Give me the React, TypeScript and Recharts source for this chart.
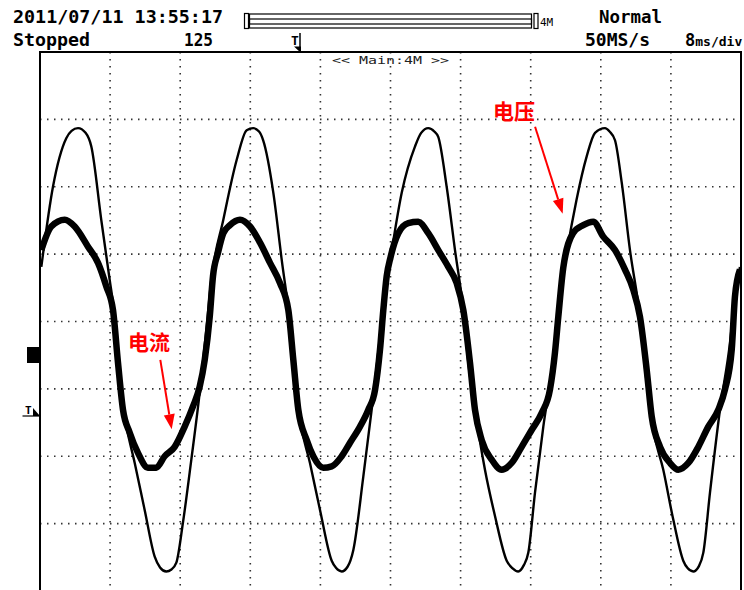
import React from 'react';
import { LineChart, Line, XAxis, YAxis, CartesianGrid, ReferenceLine, ReferenceDot } from 'recharts';

// time in ms (8 ms/div), amplitude in screen divisions
const timeTicks = [0, 8, 16, 24, 32, 40, 48, 56, 64, 72, 80];
const divTicks = [-4, -3, -2, -1, 0, 1, 2, 3, 4];

const voltageMs = [
  0.15, 1.48, 3.0, 3.6, 4.34, 5.2, 5.85, 7.0, 7.95, 8.52, 9.1, 9.85, 10.81, 11.95, 13.09, 13.7, 14.41, 15.0, 15.56,
  16.32, 17.27, 18.22, 18.98, 19.55, 20.92, 22.45, 23.59, 24.33, 25.0, 25.47, 26.63, 27.59, 28.53, 29.1, 29.68,
  30.81, 31.96, 33.29, 33.8, 34.43, 35.1, 35.76, 36.9, 38.04, 38.8, 39.37, 40.14, 41.28, 42.8, 43.5, 44.31, 45.0,
  45.45, 46.41, 47.36, 48.31, 48.88, 49.64, 50.78, 51.93, 53.26, 53.9, 54.58, 55.2, 55.73, 56.49, 57.44, 58.4,
  59.15, 60.08, 61.22, 62.39, 63.34, 64.48, 65.0, 65.62, 66.39, 67.33, 68.47, 69.24, 69.99, 71.13, 72.27, 73.41,
  73.9, 74.55, 75.2, 75.7, 76.46, 77.6, 78.74, 79.31, 79.88,
];
const voltageDiv = [
  0.81, 2.0, 2.72, 2.83, 2.87, 2.8, 2.6, 1.5, 0.62, 0.07, -1.02, -1.56, -2.1, -2.8, -3.49, -3.65, -3.71, -3.68, -3.58,
  -2.98, -2.05, -1.06, -0.12, 0.62, 1.51, 2.4, 2.84, 2.87, 2.82, 2.69, 1.91, 0.91, -0.02, -0.82, -1.46,
  -2.1, -2.8, -3.55, -3.66, -3.71, -3.64, -3.39, -2.3, -1.11, -0.22, 0.47, 1.06, 1.91, 2.6, 2.8, 2.87, 2.82,
  2.74, 2.0, 1.06, 0.17, -0.61, -1.31, -2.2, -2.89, -3.55, -3.66, -3.71, -3.62, -3.43, -2.54, -1.56, -0.72,
  0.17, 0.99, 1.8, 2.45, 2.8, 2.87, 2.82, 2.69, 2.06, 1.06, 0.07, -0.91, -1.61, -2.2, -2.94, -3.55,
  -3.66, -3.71, -3.63, -3.43, -2.54, -1.31, -0.32, 0.37, 0.81,
];

const currentMs = [
  0.15, 1.29, 2.82, 3.96, 5.48, 6.62, 7.57, 8.33, 8.9, 9.47, 10.24, 11.18, 12.32, 13.27, 14.23, 15.37, 16.51, 17.46,
  18.22, 18.8, 19.37, 19.74, 20.31, 20.92, 21.68, 22.82, 23.97, 25.11, 26.25, 27.39, 28.34, 28.91, 29.48, 30.44,
  31.19, 32.33, 33.29, 34.43, 35.38, 36.52, 37.47, 38.23, 38.8, 39.18, 39.56, 40.0, 40.89, 42.03, 43.17, 44.31,
  45.45, 46.6, 47.55, 48.31, 49.07, 49.64, 50.41, 51.55, 52.69, 53.83, 54.97, 56.11, 57.25, 58.2, 58.77, 59.15,
  59.72, 60.83, 62.0, 63.14, 64.28, 65.62, 66.76, 67.71, 68.47, 69.24, 69.81, 70.76, 71.9, 72.85, 73.99, 75.13,
  76.27, 77.41, 78.17, 78.94, 79.31, 79.88,
];
const currentDiv = [
  1.06, 1.41, 1.51, 1.41, 1.11, 0.87, 0.52, 0.17, -0.61, -1.31, -1.65, -1.95, -2.17, -2.17, -2.0, -1.86, -1.56, -1.26,
  -0.97, -0.57, 0.07, 0.67, 1.02, 1.31, 1.43, 1.51, 1.41, 1.17, 0.87, 0.57, 0.17, -0.57, -1.31, -1.76,
  -2.0, -2.17, -2.15, -2.0, -1.8, -1.56, -1.31, -1.02, -0.42, 0.17, 0.67, 0.95, 1.31, 1.46, 1.48, 1.31,
  1.06, 0.81, 0.57, 0.17, -0.61, -1.31, -1.76, -2.05, -2.2, -2.1, -1.86, -1.61, -1.36, -1.01, -0.46, 0.07,
  0.8, 1.31, 1.43, 1.48, 1.26, 1.06, 0.77, 0.47, 0.07, -0.72, -1.41, -1.86, -2.1, -2.2, -2.1, -1.86,
  -1.56, -1.31, -1.01, -0.42, 0.37, 0.77,
];

const voltageData = voltageMs.map((t, i) => ({ t, v: voltageDiv[i] }));
const currentData = currentMs.map((t, i) => ({ t, c: currentDiv[i] }));

const labelVoltage = '电压';
const labelCurrent = '电流';

const arrowShape = (p: any) => {
  const { x1, y1, x2, y2 } = p;
  const dx = x2 - x1;
  const dy = y2 - y1;
  const len = Math.sqrt(dx * dx + dy * dy) || 1;
  const ux = dx / len;
  const uy = dy / len;
  const headL = 15;
  const headW = 5.5;
  const bx = x2 - ux * headL;
  const by = y2 - uy * headL;
  const pts = `${x2},${y2} ${bx - uy * headW},${by + ux * headW} ${bx + uy * headW},${by - ux * headW}`;
  return (
    <g>
      <line x1={x1} y1={y1} x2={bx} y2={by} stroke="#ff0000" strokeWidth={2} />
      <polygon points={pts} fill="#ff0000" />
    </g>
  );
};

const labelShape = (text: string) => (p: any) => (
  <text
    x={p.cx}
    y={p.cy}
    textAnchor="middle"
    dominantBaseline="central"
    fill="#ff0000"
    fontSize={21}
    fontWeight="bold"
    fontFamily="'Noto Sans CJK SC', sans-serif"
  >
    {text}
  </text>
);

const mono = "'DejaVu Sans Mono', 'Liberation Mono', monospace";

export default function App() {
  return (
    <div style={{ position: 'absolute', left: 0, top: 0, width: 744, height: 590, overflow: 'hidden', background: '#fff' }}>
      <LineChart width={744} height={600} margin={{ top: 52, right: 3, bottom: 9, left: 40 }}>
        <XAxis type="number" dataKey="t" domain={[0, 80]} ticks={timeTicks} hide allowDataOverflow />
        <YAxis type="number" domain={[-4, 4]} ticks={divTicks} hide allowDataOverflow />
        <CartesianGrid stroke="#333" strokeWidth={1.6} strokeDasharray="1.5 5.5" />
        <Line
          data={voltageData}
          dataKey="v"
          type="monotone"
          stroke="#000"
          strokeWidth={2.4}
          dot={false}
          isAnimationActive={false}
        />
        <Line
          data={currentData}
          dataKey="c"
          type="monotone"
          stroke="#000"
          strokeWidth={6.5}
          dot={false}
          isAnimationActive={false}
        />
        <ReferenceLine segment={[{ x: 13.73, y: -0.57 }, { x: 15.03, y: -1.6 }]} shape={arrowShape} />
        <ReferenceLine segment={[{ x: 56.5, y: 2.89 }, { x: 59.65, y: 1.6 }]} shape={arrowShape} />
        <ReferenceDot x={12.44} y={-0.29} r={0} shape={labelShape(labelCurrent)} />
        <ReferenceDot x={54.1} y={3.14} r={0} shape={labelShape(labelVoltage)} />
      </LineChart>
      <svg
        width={744}
        height={590}
        style={{ position: 'absolute', left: 0, top: 0, pointerEvents: 'none' }}
      >
        <path d="M40,592 V52 H741 V592" fill="none" stroke="#000" strokeWidth={2} />
        <g fontFamily={mono} fontWeight="bold" fill="#000">
          <text x={13} y={23} fontSize={17} textLength={210} lengthAdjust="spacingAndGlyphs">2011/07/11 13:55:17</text>
          <text x={13} y={46} fontSize={18} textLength={77} lengthAdjust="spacingAndGlyphs">Stopped</text>
          <text x={184} y={46} fontSize={18} textLength={29} lengthAdjust="spacingAndGlyphs">125</text>
          <text x={599} y={23} fontSize={18} textLength={63} lengthAdjust="spacingAndGlyphs">Normal</text>
          <text x={585} y={46} fontSize={18} textLength={65} lengthAdjust="spacingAndGlyphs">50MS/s</text>
          <text x={685} y={46}>
            <tspan fontSize={17}>8</tspan>
            <tspan fontSize={13}>ms/div</tspan>
          </text>
        </g>
        <g fill="none" stroke="#000" strokeWidth={1.2}>
          <rect x={244.5} y={13.5} width={4} height={15} />
          <rect x={249.5} y={14} width={282} height={14} />
          <rect x={249.5} y={19} width={282} height={5} />
          <rect x={534} y={13.5} width={4} height={15} />
        </g>
        <text x={540} y={26} fontSize={11} fontFamily={mono} fill="#000">4M</text>
        <text x={332} y={64} fontSize={11} fontFamily={mono} fill="#222" textLength={117} lengthAdjust="spacingAndGlyphs">{'<< Main:4M >>'}</text>
        <text x={291} y={45} fontSize={13} fontFamily={mono} fontWeight="bold" fill="#000">T</text>
        <line x1={300} y1={33} x2={300} y2={47} stroke="#000" strokeWidth={1.5} />
        <polygon points="294,46.5 301,46.5 301,53" fill="#000" />
        <rect x={27} y={347} width={13} height={16} fill="#000" />
        <text x={25} y={414} fontSize={11} fontFamily={mono} fontWeight="bold" fill="#000">T</text>
        <line x1={22.5} y1={416} x2={40} y2={416} stroke="#000" strokeWidth={1.2} />
        <polygon points="33,408 40,416 33,416" fill="#000" />
      </svg>
    </div>
  );
}
